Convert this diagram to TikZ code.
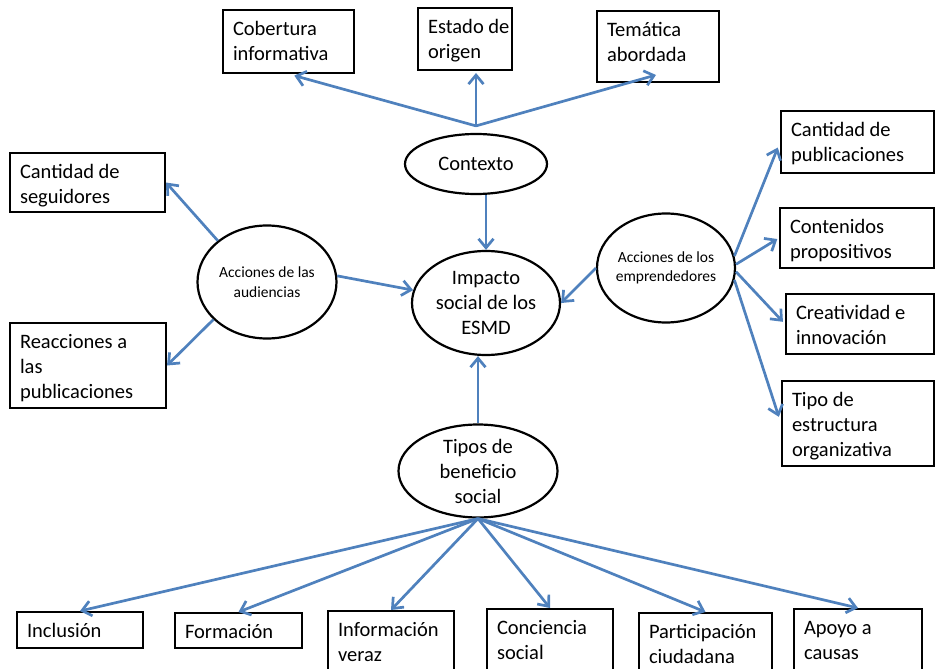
\documentclass[tikz,border=0pt]{standalone}
\usepackage{fontspec}
\setmainfont{Carlito}
\usetikzlibrary{shapes.geometric,arrows.meta,calc}
\definecolor{arrblue}{RGB}{79,129,189}
\newcommand\bx[3]{\parbox[c][#2pt][t]{#1pt}{\vspace*{8pt}\raggedright\leftskip=10pt\rightskip=-40pt plus 1fil\relax\strut #3\par}}
\tikzset{
  box/.style={draw=black, line width=2pt, inner sep=0pt, anchor=north west, font=\fontsize{20.5}{25}\selectfont},
  ell/.style={draw=black, ellipse, line width=2.2pt, inner sep=-3pt, align=center, font=\fontsize{20.5}{25}\selectfont},
  ells/.style={ell, inner sep=-5pt, font=\fontsize{15.5}{19.5}\selectfont},
  arr/.style={draw=arrblue, line width=2.7pt, -{Straight Barb[length=9pt,width=15pt]}},
}
\begin{document}
\begin{tikzpicture}[x=1pt,y=-1pt]
\useasboundingbox (0,0) rectangle (935,669);
\clip (0,0) rectangle (935,669);

% ellipses
\node[ell, minimum width=142pt, minimum height=60pt] (ctx) at (476,164) {Contexto};
\node[ell, minimum width=148pt, minimum height=104pt] (imp) at (486,303) {Impacto\\social de los\\ESMD};
\node[ells, minimum width=139pt, minimum height=113pt] (aud) at (267,282) {Acciones de las\\audiencias};
\node[ells, minimum width=138pt, minimum height=109pt] (emp) at (666,268) {Acciones de los\\emprendedores};
\node[ell, inner sep=-9pt, minimum width=159pt, minimum height=93pt] (tip) at (478,471) {Tipos de\\beneficio\\social};

% top boxes
\node[box] (cob) at (222,9) {\bx{131}{63}{Cobertura\\informativa}};
\node[box] (est) at (417,7) {\bx{94}{62}{Estado de\\origen}};
\node[box] (tem) at (596,10) {\bx{122}{71}{Temática\\abordada}};

% left boxes
\node[box] (cseg) at (9,152) {\bx{155}{59}{Cantidad de\\seguidores}};
\node[box] (reac) at (9,322) {\bx{156}{85}{Reacciones a\\las\\publicaciones}};

% right boxes
\node[box] (cpub) at (780,110) {\bx{153}{62}{Cantidad de\\publicaciones}};
\node[box] (cont) at (779,207) {\bx{154}{60}{Contenidos\\propositivos}};
\node[box] (crea) at (785,293) {\bx{148}{60}{Creatividad e\\innovación}};
\node[box] (tipo) at (781,380) {\bx{152}{85}{Tipo de\\estructura\\organizativa}};

% bottom boxes
\node[box] (inc) at (16,611) {\bx{126}{36}{Inclusión}};
\node[box] (form) at (174,612) {\bx{127}{35}{Formación}};
\node[box] (inf) at (327,610) {\bx{126}{80}{Información\\veraz}};
\node[box] (con) at (486,608) {\bx{126}{80}{Conciencia\\social}};
\node[box] (par) at (638,612) {\bx{133}{80}{Participación\\ciudadana}};
\node[box] (apo) at (793,608) {\bx{128}{80}{Apoyo a\\causas}};

% connectors
\coordinate (ctxhub) at ($(ctx.north)+(0,-7)$);
\draw[arr, shorten >=6pt] (ctxhub) -- (cob.south);
\draw[arr, shorten >=2pt] (ctxhub) -- (ctxhub |- est.south);
\draw[arr] (ctxhub) -- ($(tem.south)+(-2,-8)$);
\draw[arr] (imp.north |- ctx.south) -- (imp.north);

\draw[arr] (aud.140) -- (cseg.east);
\draw[arr] (aud.-145) -- (reac.east);
\draw[arr] (aud.5) -- (imp.170);

\draw[arr] (emp.west) -- (imp.east);
\draw[arr, shorten >=6pt] (emp.10) -- (cpub.west);
\draw[arr, shorten >=2pt] (emp.3) -- (cont.west);
\draw[arr, shorten >=3pt] (emp.-3) -- (crea.west);
\draw[arr, shorten >=7pt] (emp.-10) -- (tipo.west);

\draw[arr] (tip.north) -- (tip.north |- imp.south);
\foreach \n in {inc,form,inf,con,par,apo}
  \draw[arr] (tip.south) -- (\n.north);
\end{tikzpicture}
\end{document}
